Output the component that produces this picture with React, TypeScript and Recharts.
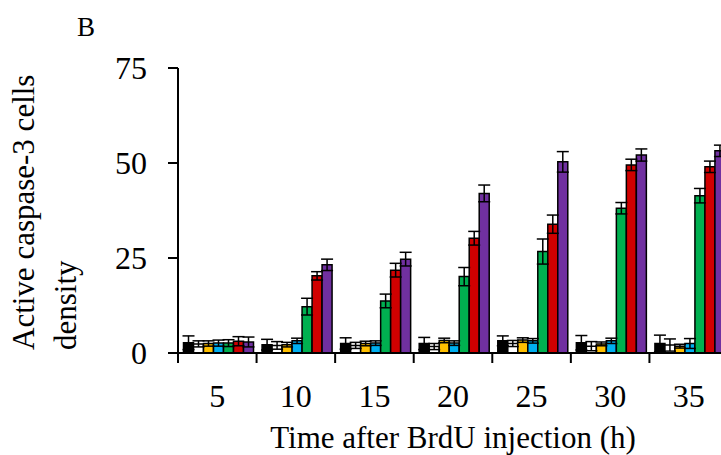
import * as React from "react";
import { BarChart, Bar, XAxis, YAxis, ErrorBar } from "recharts";

// hours after injection
const hours = ["5", "10", "15", "20", "25", "30", "35"];

// bar heights per group
const blackVals = [2.7, 2.2, 2.5, 2.5, 3.2, 2.7, 2.5];
const blackErr = [1.8, 1.4, 1.5, 1.6, 1.3, 1.9, 2.2];
const whiteVals = [2.4, 2.0, 2.0, 1.7, 2.5, 1.8, 2.1];
const whiteErr = [0.8, 1.0, 0.8, 0.8, 0.8, 1.2, 1.6];
const yellowVals = [2.5, 2.2, 2.5, 3.3, 3.4, 2.4, 1.8];
const yellowErr = [0.7, 0.6, 0.6, 0.6, 0.6, 0.5, 0.5];
const cyanVals = [2.6, 3.2, 2.6, 2.6, 3.2, 3.2, 2.5];
const cyanErr = [0.8, 0.7, 0.6, 0.6, 0.6, 0.7, 1.3];
const greenVals = [2.6, 12.2, 13.7, 20.1, 26.7, 38.1, 41.4];
const greenErr = [0.9, 2.2, 1.8, 2.4, 3.3, 1.5, 1.9];
const redVals = [3.1, 20.3, 21.8, 30.2, 33.9, 49.5, 49.0];
const redErr = [1.2, 1.1, 1.8, 1.8, 2.4, 1.5, 1.5];
const purpleVals = [2.9, 23.2, 24.7, 42.0, 50.3, 52.1, 53.2];
const purpleErr = [1.3, 1.5, 1.8, 2.2, 2.7, 1.6, 1.5];

const yTicks = [0, 25, 50, 75];

const series = [
  { key: "s1", vals: blackVals, err: blackErr, fill: "#000000" },
  { key: "s2", vals: whiteVals, err: whiteErr, fill: "#ffffff" },
  { key: "s3", vals: yellowVals, err: yellowErr, fill: "#ffc000" },
  { key: "s4", vals: cyanVals, err: cyanErr, fill: "#00b0f0" },
  { key: "s5", vals: greenVals, err: greenErr, fill: "#00b050" },
  { key: "s6", vals: redVals, err: redErr, fill: "#d00000" },
  { key: "s7", vals: purpleVals, err: purpleErr, fill: "#7030a0" },
];

const chartData = hours.map((h, i) => {
  const row: any = { hour: h };
  series.forEach((s) => {
    row[s.key] = s.vals[i];
    row[s.key + "Err"] = s.err[i];
  });
  return row;
});

const FONT = "'Liberation Serif', 'Times New Roman', serif";

// category label in the middle, tick mark on the left edge of the category (Excel style)
const HourTick = (props: any) => {
  const { x, y, payload, width } = props;
  const half =
    payload && typeof payload.offset === "number" && payload.offset > 0
      ? payload.offset
      : width / hours.length / 2;
  const left = x - half;
  return (
    <g>
      <line x1={left} y1={y} x2={left} y2={y + 10} stroke="#000" strokeWidth={2} />
      <text
        x={x}
        y={y + 31}
        dy="0.71em"
        textAnchor="middle"
        fill="#000"
        fontSize={32}
        fontFamily={FONT}
      >
        {payload.value}
      </text>
    </g>
  );
};

const App = () => {
  return (
    <div
      style={{
        position: "fixed",
        left: 0,
        top: 0,
        width: 721,
        height: 455,
        overflow: "hidden",
        background: "#fff",
      }}
    >
      <BarChart
        width={760}
        height={455}
        data={chartData}
        margin={{ top: 68, right: 32, bottom: 0, left: 0 }}
        barCategoryGap="7%"
        barGap={0}
        style={{ fontFamily: FONT }}
      >
        <XAxis
          dataKey="hour"
          height={102}
          tickSize={0}
          tickMargin={0}
          axisLine={{ stroke: "#000", strokeWidth: 2 }}
          tickLine={false}
          tick={<HourTick />}
          interval={0}
          label={{
            value: "Time after BrdU injection (h)",
            position: "insideBottom",
            offset: 7,
            fill: "#000",
            fontSize: 31,
            fontFamily: FONT,
          }}
        />
        <YAxis
          width={178}
          domain={[0, 75]}
          ticks={yTicks}
          tickSize={10}
          tickMargin={21}
          axisLine={{ stroke: "#000", strokeWidth: 2 }}
          tickLine={{ stroke: "#000", strokeWidth: 2 }}
          tick={{ fill: "#000", fontSize: 32, fontFamily: FONT }}
          label={{
            content: () => (
              <g fontFamily={FONT} fontSize={31} fill="#000">
                <text x={34} y={350} transform="rotate(-90 34 350)" textAnchor="start">
                  Active caspase-3 cells
                </text>
                <text x={76} y={350} transform="rotate(-90 76 350)" textAnchor="start">
                  density
                </text>
                <text x={86} y={36} textAnchor="middle" fontSize={27}>
                  B
                </text>
              </g>
            ),
          }}
        />
        {series.map((s) => (
          <Bar
            key={s.key}
            dataKey={s.key}
            fill={s.fill}
            stroke="#000"
            strokeWidth={1.5}
            isAnimationActive={false}
          >
            <ErrorBar
              dataKey={s.key + "Err"}
              width={6}
              stroke="#000"
              strokeWidth={1.5}
              isAnimationActive={false}
            />
          </Bar>
        ))}
      </BarChart>
    </div>
  );
};

export default App;
